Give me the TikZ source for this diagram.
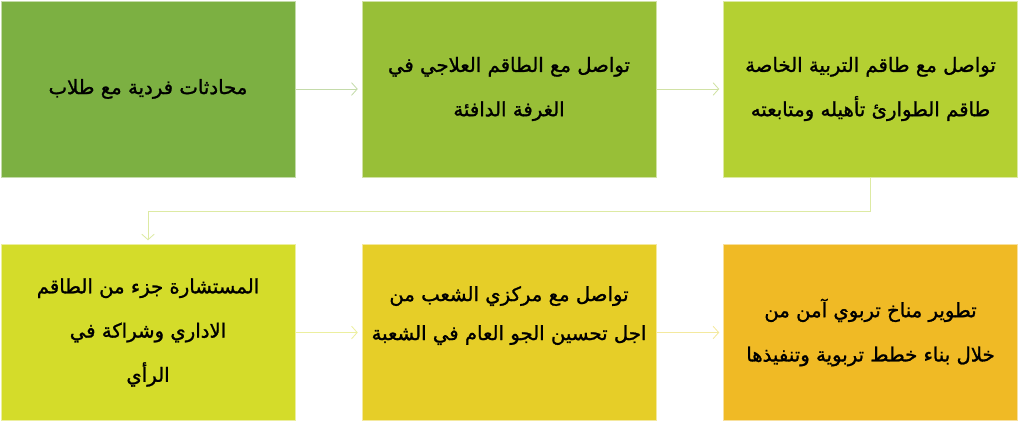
\documentclass[tikz,border=0pt]{standalone}
\usepackage{fontspec}
\usepackage{xcolor}
\usetikzlibrary{arrows.meta}
\newfontfamily\arabicfont[Script=Arabic, FakeBold=1.2]{DejaVu Sans}
\TeXXeTstate=1

\definecolor{stepA}{HTML}{7CB042}
\definecolor{stepB}{HTML}{98BF37}
\definecolor{stepC}{HTML}{B4D032}
\definecolor{stepD}{HTML}{D4DC2A}
\definecolor{stepE}{HTML}{E6CE28}
\definecolor{stepF}{HTML}{F0BA25}

\tikzset{
	stepbox/.style={rectangle, fill=#1, draw=#1!45!white, line width=0.6pt, minimum width=\boxW, minimum height=\boxH, inner sep=0pt, outer sep=0pt, align=center, font=\arabicfont\fontsize{14}{31.5}\selectfont},
	link/.style={draw=#1!45!white, line width=0.6pt, ->, shorten >=3pt}
}

\begin{document}
\begin{tikzpicture}[x=0.025cm, y=-0.025cm, >={Straight Barb[length=4pt, width=9pt]}]
		%definition of box size
		\def\boxW{7.35cm}
		\def\boxH{4.4cm}
		
		%bounding box
		\useasboundingbox (0,0) rectangle (1024,422);
		
		%first row
		\node [stepbox=stepA] (talks) at (148,89) {\beginR محادثات فردية مع طلاب\endR};
		\node [stepbox=stepB] (therapy) at (509,89) {\beginR تواصل مع الطاقم العلاجي في\endR\\\beginR الغرفة الدافئة\endR};
		\node [stepbox=stepC] (special) at (870.5,89) {\beginR تواصل مع طاقم التربية الخاصة\endR\\\beginR طاقم الطوارئ تأهيله ومتابعته\endR};
		
		%second row
		\node [stepbox=stepD] (counsel) at (148,332.5) {\beginR المستشارة جزء من الطاقم\endR\\\beginR الاداري وشراكة في\endR\\\beginR الرأي\endR};
		\node [stepbox=stepE] (classes) at (509,332.5) {\def\arraystretch{0.88}\raisebox{14pt}[\height][\depth]{\begin{tabular}{c}\beginR تواصل مع مركزي الشعب من\endR\\\beginR اجل تحسين الجو العام في الشعبة\endR\end{tabular}}};
		\node [stepbox=stepF] (climate) at (870.5,332.5) {\beginR تطوير مناخ تربوي آمن من\endR\\\beginR خلال بناء خطط تربوية وتنفيذها\endR};
		
		%connectors
		\draw [link=stepA] (talks) -- (therapy);
		\draw [link=stepB] (therapy) -- (special);
		\draw [link=stepC] (special.south) -- ++(0,34) coordinate (turn) -| (counsel.north);
		\draw [link=stepD] (counsel) -- (classes);
		\draw [link=stepE] (classes) -- (climate);
	\end{tikzpicture}
\end{document}
